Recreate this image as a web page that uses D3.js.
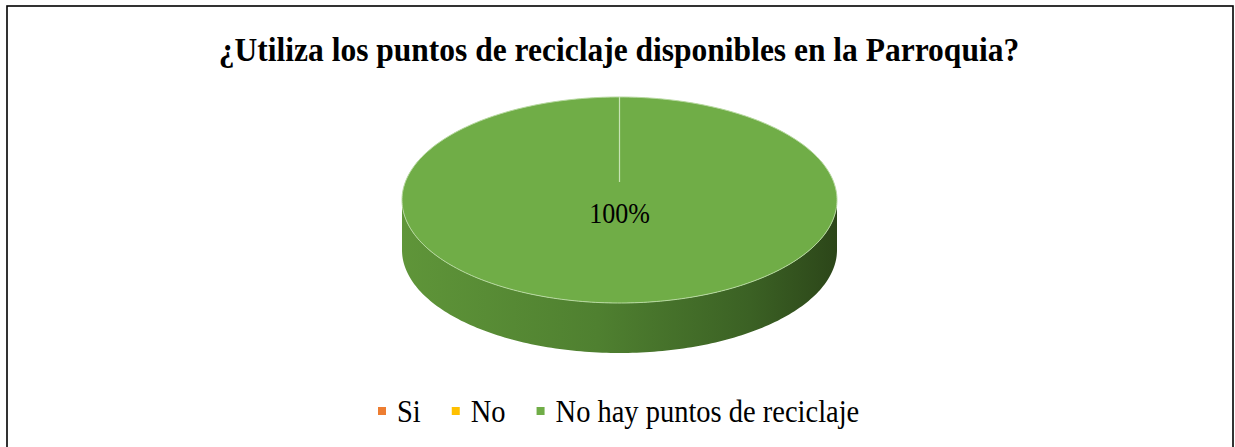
<!DOCTYPE html>
<html lang="es">
<head>
  <meta charset="UTF-8">
  <title>Puntos de reciclaje</title>
  <script src="https://d3js.org/d3.v7.min.js"></script>
  <style>
    body { margin: 0; background: #fff; }
    svg { display: block; }
    svg text { font-family: "Liberation Serif", "Times New Roman", Times, "DejaVu Serif", serif; }
  </style>
</head>
<body>
<svg width="1235" height="447"></svg>
<script>
  const categories = ["Si", "No", "No hay puntos de reciclaje"];
  const values = [0, 0, 100];
  const colors = ["#ED7D31", "#FFC000", "#70AD47"];
  const title = "¿Utiliza los puntos de reciclaje disponibles en la Parroquia?";

  const svg = d3.select("svg");
  const stretch = 1.1; // text in the picture is slightly taller than wide

  // chart frame
  svg.append("rect")
    .attr("x", 7).attr("y", 6)
    .attr("width", 1226).attr("height", 460)
    .attr("fill", "#fff").attr("stroke", "#000").attr("stroke-width", 1.6);

  svg.append("text")
    .attr("transform", `translate(619,61) scale(1,${stretch})`)
    .attr("text-anchor", "middle")
    .attr("font-size", 31.5).attr("font-weight", "bold")
    .text(title);

  // 3D pie geometry
  const cx = 619.5, cy = 200, rx = 217.5, ry = 103, depth = 50;
  const total = d3.sum(values);
  const pct = d3.format(".0%");
  const pie = d3.pie().sort(null).value(d => d)(values);

  const defs = svg.append("defs");
  const grad = defs.append("linearGradient").attr("id", "side")
    .attr("x1", "0%").attr("x2", "100%").attr("y1", "0%").attr("y2", "0%");
  grad.append("stop").attr("offset", "0%").attr("stop-color", "#5f9539");
  grad.append("stop").attr("offset", "45%").attr("stop-color", "#4f8030");
  grad.append("stop").attr("offset", "80%").attr("stop-color", "#3b6124");
  grad.append("stop").attr("offset", "100%").attr("stop-color", "#2c4619");

  const px = a => cx + rx * Math.sin(a);
  const py = (a, dy = 0) => cy - ry * Math.cos(a) + dy;

  function arcPoints(a0, a1, dy) {
    const n = Math.max(2, Math.ceil((a1 - a0) / 0.02));
    return d3.range(n + 1).map(i => {
      const a = a0 + (a1 - a0) * i / n;
      return [px(a), py(a, dy)];
    });
  }

  const line = d3.line();

  // sides (front half only: angles between PI/2 and 3PI/2)
  pie.forEach((d, i) => {
    if (d.endAngle - d.startAngle <= 0) return;
    const s = Math.max(d.startAngle, Math.PI / 2);
    const e = Math.min(d.endAngle, 3 * Math.PI / 2);
    if (e <= s) return;
    const top = arcPoints(s, e, 0);
    const bottom = arcPoints(s, e, depth).reverse();
    svg.append("path")
      .attr("d", line(top.concat(bottom)) + "Z")
      .attr("fill", i === 2 ? "url(#side)" : d3.color(colors[i]).darker(0.8));
  });

  // top faces
  pie.forEach((d, i) => {
    if (d.endAngle - d.startAngle <= 0) return;
    const pts = arcPoints(d.startAngle, d.endAngle, 0);
    const full = d.endAngle - d.startAngle >= 2 * Math.PI - 1e-6;
    svg.append("path")
      .attr("d", full ? line(pts) + "Z" : line([[cx, cy]].concat(pts)) + "Z")
      .attr("fill", colors[i])
      .attr("stroke", "#b7d9a0").attr("stroke-width", 1);
    // slice boundary
    svg.append("line")
      .attr("x1", cx).attr("y1", cy - 18)
      .attr("x2", px(d.startAngle)).attr("y2", py(d.startAngle))
      .attr("stroke", "#c7e3b3").attr("stroke-width", 1.2);
  });

  // data labels
  pie.forEach((d, i) => {
    if (values[i] === 0) return;
    const mid = (d.startAngle + d.endAngle) / 2;
    const full = d.endAngle - d.startAngle >= 2 * Math.PI - 1e-6;
    const lx = full ? cx : cx + rx * 0.6 * Math.sin(mid);
    const ly = full ? cy + 23 : cy - ry * 0.6 * Math.cos(mid) + 9;
    svg.append("text")
      .attr("transform", `translate(${lx},${ly}) scale(1,${stretch})`)
      .attr("text-anchor", "middle")
      .attr("font-size", 26)
      .text(pct(values[i] / total));
  });

  // legend
  const legend = svg.append("g").attr("transform", "translate(378,422)");
  let x = 0;
  categories.forEach((c, i) => {
    const g = legend.append("g").attr("transform", `translate(${x},0)`);
    g.append("rect").attr("x", 0).attr("y", -15).attr("width", 8).attr("height", 8)
      .attr("fill", colors[i]);
    const t = g.append("text")
      .attr("transform", `translate(19,0) scale(1,${stretch})`)
      .attr("font-size", 28.5).text(c);
    x += 19 + t.node().getComputedTextLength() + 31;
  });
</script>
</body>
</html>
